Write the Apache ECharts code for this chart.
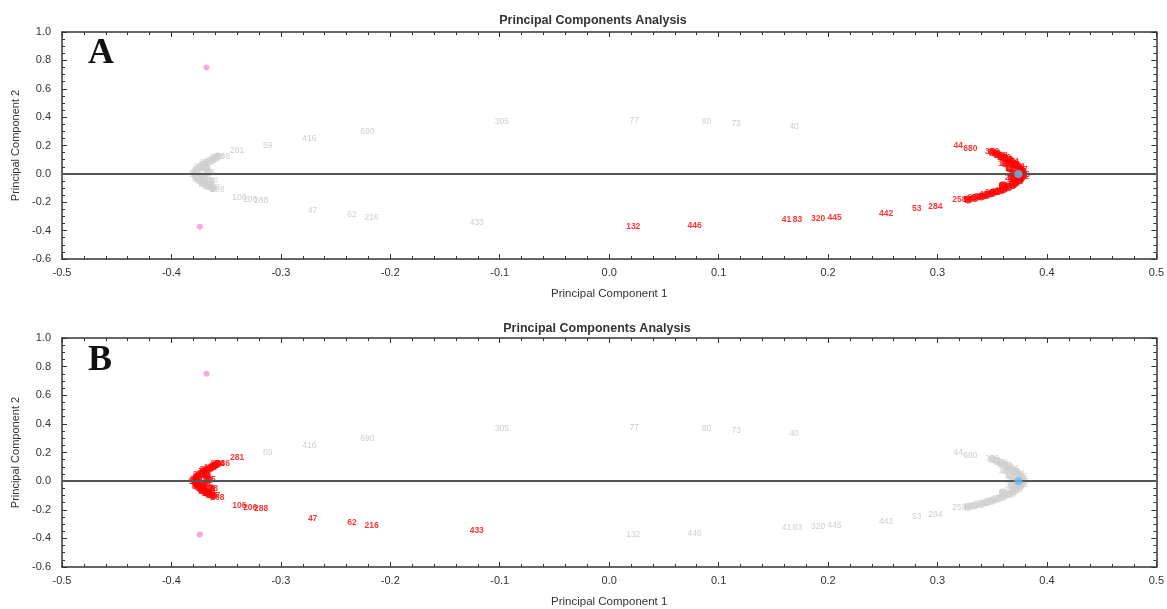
<!DOCTYPE html>
<html>
<head>
<meta charset="utf-8">
<script src="https://cdn.jsdelivr.net/npm/echarts@6/dist/echarts.min.js"></script>
<style>
  html, body { margin: 0; padding: 0; background: #fff; }
  #chart { width: 1167px; height: 609px; }
</style>
</head>
<body>
<div id="chart"></div>
<script>
// labelled samples: side R = right cluster, L = left cluster, N = neither
var pointNames = ['305', '77', '80', '73', '40', '690', '416', '59',
  '132', '446', '41', '83', '320', '445', '442', '53', '284', '258', '44', '680',
  '433', '216', '62', '47', '288', '206', '106', '208', '286', '281']
var pointPc1 = [-0.098, 0.023, 0.089, 0.116, 0.169, -0.221, -0.274, -0.312,
  0.022, 0.078, 0.162, 0.172, 0.191, 0.206, 0.253, 0.281, 0.298, 0.320, 0.319, 0.330,
  -0.121, -0.217, -0.235, -0.271, -0.318, -0.328, -0.338, -0.358, -0.353, -0.340]
var pointPc2 = [0.366, 0.373, 0.366, 0.352, 0.330, 0.296, 0.246, 0.197,
  -0.373, -0.366, -0.324, -0.326, -0.317, -0.310, -0.282, -0.246, -0.232, -0.185, 0.197, 0.176,
  -0.345, -0.310, -0.289, -0.260, -0.190, -0.183, -0.169, -0.113, 0.120, 0.164]
var pointSide = ['N', 'N', 'N', 'N', 'N', 'N', 'N', 'N',
  'R', 'R', 'R', 'R', 'R', 'R', 'R', 'R', 'R', 'R', 'R', 'R',
  'L', 'L', 'L', 'L', 'L', 'L', 'L', 'L', 'L', 'L']

// dense arc of the right cluster
var rightArcNames = ['352', '31', '118', '270', '92', '164', '23', '401', '187', '9', '236', '311', '58', '143',
  '377', '266', '84', '419', '200', '129', '335', '297', '96', '15', '292', '173', '61', '248']
var rightArcPc1 = [0.350, 0.354, 0.358, 0.361, 0.365, 0.368, 0.371, 0.374, 0.376, 0.378, 0.378, 0.377, 0.375, 0.372,
  0.369, 0.365, 0.360, 0.355, 0.350, 0.345, 0.340, 0.334, 0.328, 0.366, 0.368, 0.362, 0.360, 0.370]
var rightArcPc2 = [0.155, 0.142, 0.128, 0.114, 0.100, 0.085, 0.068, 0.050, 0.032, 0.014, -0.004, -0.022, -0.040, -0.058,
  -0.075, -0.092, -0.108, -0.122, -0.135, -0.148, -0.160, -0.170, -0.180, 0.040, -0.030, 0.075, -0.080, 0.005]

// dense arc of the left cluster
var leftArcNames = ['294', '12', '167', '340', '75', '218', '3', '409', '151', '26', '363', '88', '232', '119',
  '397', '54', '181', '275', '138']
var leftArcPc1 = [-0.358, -0.361, -0.364, -0.368, -0.371, -0.374, -0.377, -0.378, -0.378, -0.377, -0.375, -0.372, -0.369, -0.366,
  -0.362, -0.368, -0.370, -0.366, -0.364]
var leftArcPc2 = [0.122, 0.108, 0.095, 0.080, 0.065, 0.048, 0.030, 0.012, -0.006, -0.024, -0.042, -0.058, -0.074, -0.088,
  -0.100, 0.040, -0.020, 0.010, -0.050]

// variables / centroid
var pinkPc1 = [-0.368, -0.374]
var pinkPc2 = [0.75, -0.373]
var bluePc1 = [0.374]
var bluePc2 = [0.0]

var xTicks = [-0.5, 0.5, 0.1]
var yTicks = [-0.6, 1.0, 0.2]

var RED = '#ff0000'
var GREY_TXT = '#c2c2c2'
var GREY_DOT = '#cfcfcf'

function rows(names, xs, ys, test) {
  var out = []
  for (var i = 0; i < xs.length; i++) {
    if (!test || test(i)) out.push([xs[i], ys[i], names ? names[i] : ''])
  }
  return out
}

function textLabel(color, weight) {
  return {
    show: true,
    position: 'inside',
    formatter: function (p) { return p.data[2] },
    color: color,
    fontSize: 8.5,
    fontWeight: weight || 'normal',
    fontFamily: 'Arial, Liberation Sans, sans-serif'
  }
}

function panelSeries(k, redSide) {
  var xi = k * 2, yi = k * 2
  var redArc = redSide === 'R' ? [rightArcNames, rightArcPc1, rightArcPc2] : [leftArcNames, leftArcPc1, leftArcPc2]
  var greyArc = redSide === 'R' ? [leftArcNames, leftArcPc1, leftArcPc2] : [rightArcNames, rightArcPc1, rightArcPc2]
  return [
    {
      type: 'scatter', xAxisIndex: xi, yAxisIndex: yi, symbolSize: 0, silent: true,
      data: rows(pointNames, pointPc1, pointPc2, function (i) { return pointSide[i] !== redSide }),
      label: textLabel(GREY_TXT),
      markLine: {
        silent: true, symbol: 'none', label: { show: false },
        lineStyle: { color: '#555', width: 2, type: 'solid' },
        data: [{ yAxis: 0 }]
      }
    },
    {
      type: 'scatter', xAxisIndex: xi, yAxisIndex: yi, symbol: 'circle', symbolSize: 8, silent: true,
      itemStyle: { color: GREY_DOT },
      data: rows(greyArc[0], greyArc[1], greyArc[2]),
      label: textLabel(GREY_DOT)
    },
    {
      type: 'scatter', xAxisIndex: xi, yAxisIndex: yi, symbolSize: 0, silent: true,
      data: rows(pointNames, pointPc1, pointPc2, function (i) { return pointSide[i] === redSide }),
      label: textLabel(RED, 'bold')
    },
    {
      type: 'scatter', xAxisIndex: xi, yAxisIndex: yi, symbol: 'circle', symbolSize: 8, silent: true,
      itemStyle: { color: RED },
      data: rows(redArc[0], redArc[1], redArc[2]),
      label: textLabel(RED, 'bold')
    },
    {
      type: 'scatter', xAxisIndex: xi, yAxisIndex: yi, symbol: 'circle', symbolSize: 6, silent: true,
      itemStyle: { color: '#ff8fd2' },
      data: rows(null, pinkPc1, pinkPc2)
    },
    {
      type: 'scatter', xAxisIndex: xi, yAxisIndex: yi, symbol: 'circle', symbolSize: 8, silent: true, z: 20,
      itemStyle: { color: '#6cb8f0' },
      data: rows(null, bluePc1, bluePc2)
    }
  ]
}

function xAxisPair(k) {
  var base = {
    gridIndex: k, type: 'value', min: xTicks[0], max: xTicks[1], interval: xTicks[2],
    splitLine: { show: false },
    axisLine: { onZero: false, lineStyle: { color: '#333', width: 1.5 } },
    axisTick: { inside: true, length: 5, lineStyle: { color: '#333' } },
    minorTick: { show: true, splitNumber: 5, length: 3, lineStyle: { color: '#333' } }
  }
  var bottom = Object.assign({}, base, {
    position: 'bottom',
    name: 'Principal Component 1', nameLocation: 'middle', nameGap: 29,
    nameTextStyle: { fontSize: 11.5, color: '#333', fontFamily: 'Arial, Liberation Sans, sans-serif' },
    axisLabel: {
      fontSize: 11, color: '#333', margin: 8, fontFamily: 'Arial, Liberation Sans, sans-serif',
      formatter: function (v) { return v.toFixed(1) }
    }
  })
  var top = Object.assign({}, base, { position: 'top', axisLabel: { show: false } })
  return [bottom, top]
}

function yAxisPair(k) {
  var base = {
    gridIndex: k, type: 'value', min: yTicks[0], max: yTicks[1], interval: yTicks[2],
    splitLine: { show: false },
    axisLine: { onZero: false, lineStyle: { color: '#333', width: 1.5 } },
    axisTick: { inside: true, length: 5, lineStyle: { color: '#333' } },
    minorTick: { show: true, splitNumber: 4, length: 3, lineStyle: { color: '#333' } }
  }
  var left = Object.assign({}, base, {
    position: 'left',
    name: 'Principal Component 2', nameLocation: 'middle', nameGap: 41,
    nameTextStyle: { fontSize: 11, color: '#333', fontFamily: 'Arial, Liberation Sans, sans-serif' },
    axisLabel: {
      fontSize: 11, color: '#333', margin: 11, fontFamily: 'Arial, Liberation Sans, sans-serif',
      formatter: function (v) { return v.toFixed(1) }
    }
  })
  var right = Object.assign({}, base, { position: 'right', axisLabel: { show: false } })
  return [left, right]
}

var chart = echarts.init(document.getElementById('chart'))
chart.setOption({
  animation: false,
  backgroundColor: '#fff',
  title: [
    {
      text: 'Principal Components Analysis', left: 588, top: 9, textAlign: 'center',
      textStyle: { fontSize: 12.5, fontWeight: 'bold', color: '#333', fontFamily: 'Arial, Liberation Sans, sans-serif' }
    },
    {
      text: 'Principal Components Analysis', left: 592, top: 317, textAlign: 'center',
      textStyle: { fontSize: 12.5, fontWeight: 'bold', color: '#333', fontFamily: 'Arial, Liberation Sans, sans-serif' }
    }
  ],
  graphic: [
    { type: 'text', left: 88, top: 36, style: { text: 'A', font: 'bold 36px "Liberation Serif", "DejaVu Serif", serif', fill: '#111' } },
    { type: 'text', left: 88, top: 343, style: { text: 'B', font: 'bold 36px "Liberation Serif", "DejaVu Serif", serif', fill: '#111' } }
  ],
  grid: [
    { left: 62, right: 10, top: 32, height: 227 },
    { left: 62, right: 10, top: 338, height: 229 }
  ],
  xAxis: xAxisPair(0).concat(xAxisPair(1)),
  yAxis: yAxisPair(0).concat(yAxisPair(1)),
  series: panelSeries(0, 'R').concat(panelSeries(1, 'L'))
})
</script>
</body>
</html>
